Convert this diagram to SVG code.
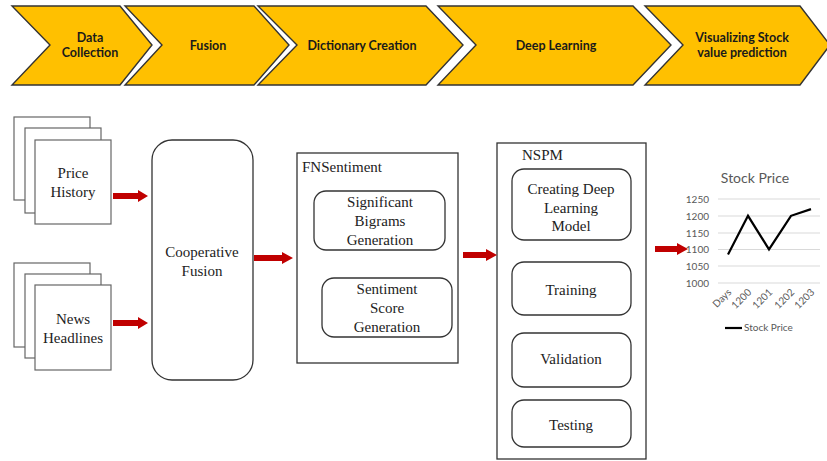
<svg xmlns="http://www.w3.org/2000/svg" width="827" height="461" viewBox="0 0 827 461">
  <defs>
    <style>
      .chev { fill: #FFC000; stroke: #333333; stroke-width: 1.4; stroke-linejoin: miter; }
      .chevtxt { font-family: Lato, "Liberation Sans", sans-serif; font-weight: bold; font-size: 12.5px; fill: #1a1a1a; text-anchor: middle; }
      .page { fill: #ffffff; stroke: #666666; stroke-width: 1.2; }
      .box { fill: #ffffff; stroke: #333333; stroke-width: 1.3; }
      .txt { font-family: "Liberation Serif", "Times New Roman", serif; font-size: 15px; fill: #222222; text-anchor: middle; }
      .lbl { font-family: "Liberation Serif", "Times New Roman", serif; font-size: 15px; fill: #222222; }
      .arrow { fill: #C00000; }
      .grid { stroke: #d9d9d9; stroke-width: 1; }
      .ax { font-family: Lato, "Liberation Sans", sans-serif; font-size: 10px; fill: #595959; }
    </style>
  </defs>

  <!-- process stages -->
  <g id="stage-data-collection">
    <polygon class="chev" points="12,6 120,6 152,45 120,85 12,85 50,45"/>
    <text class="chevtxt" x="90" y="42">Data</text>
    <text class="chevtxt" x="90" y="57">Collection</text>
  </g>
  <g id="stage-fusion">
    <polygon class="chev" points="125,6 254,6 289,45 254,85 125,85 162,45"/>
    <text class="chevtxt" x="208" y="50">Fusion</text>
  </g>
  <g id="stage-dictionary">
    <polygon class="chev" points="258,6 426,6 463,45 426,85 258,85 297,45"/>
    <text class="chevtxt" x="362" y="50">Dictionary Creation</text>
  </g>
  <g id="stage-deep-learning">
    <polygon class="chev" points="438,6 633,6 671,45 633,85 438,85 476,45"/>
    <text class="chevtxt" x="556" y="50">Deep Learning</text>
  </g>
  <g id="stage-visualizing">
    <polygon class="chev" points="645,6 800,6 830,45 800,85 645,85 683,45"/>
    <text class="chevtxt" x="742" y="42">Visualizing Stock</text>
    <text class="chevtxt" x="742" y="57">value prediction</text>
  </g>

  <!-- inputs -->
  <g id="price-history">
    <rect class="page" x="14" y="117" width="76" height="83"/>
    <rect class="page" x="25" y="128" width="76" height="85"/>
    <rect class="page" x="35" y="140" width="76" height="84"/>
    <text class="txt" x="73" y="178">Price</text>
    <text class="txt" x="73" y="197">History</text>
  </g>
  <g id="news-headlines">
    <rect class="page" x="14" y="263" width="76" height="84"/>
    <rect class="page" x="25" y="274" width="76" height="84"/>
    <rect class="page" x="35" y="285" width="76" height="85"/>
    <text class="txt" x="73" y="324">News</text>
    <text class="txt" x="73" y="343">Headlines</text>
  </g>

  <g id="cooperative-fusion">
    <rect class="box" x="152" y="140" width="101" height="240" rx="20" ry="20"/>
    <text class="txt" x="202" y="257">Cooperative</text>
    <text class="txt" x="202" y="276">Fusion</text>
  </g>

  <g id="fnsentiment">
    <rect class="box" x="297" y="153" width="161" height="210"/>
    <text class="lbl" x="302" y="172">FNSentiment</text>
    <g id="bigrams">
      <rect class="box" x="314" y="191" width="131" height="59" rx="12" ry="12"/>
      <text class="txt" x="380" y="207">Significant</text>
      <text class="txt" x="380" y="226">Bigrams</text>
      <text class="txt" x="380" y="245">Generation</text>
    </g>
    <g id="sentiment-score">
      <rect class="box" x="322" y="278" width="130" height="59" rx="12" ry="12"/>
      <text class="txt" x="387" y="294">Sentiment</text>
      <text class="txt" x="387" y="313">Score</text>
      <text class="txt" x="387" y="332">Generation</text>
    </g>
  </g>

  <g id="nspm">
    <rect class="box" x="497" y="143" width="149" height="316"/>
    <text class="lbl" x="522" y="160">NSPM</text>
    <g id="create-model">
      <rect class="box" x="512" y="169" width="119" height="71" rx="12" ry="12"/>
      <text class="txt" x="571" y="194">Creating Deep</text>
      <text class="txt" x="571" y="213">Learning</text>
      <text class="txt" x="571" y="231">Model</text>
    </g>
    <g id="training">
      <rect class="box" x="512" y="262" width="119" height="53" rx="12" ry="12"/>
      <text class="txt" x="571" y="295">Training</text>
    </g>
    <g id="validation">
      <rect class="box" x="512" y="333" width="119" height="54" rx="12" ry="12"/>
      <text class="txt" x="571" y="364">Validation</text>
    </g>
    <g id="testing">
      <rect class="box" x="512" y="400" width="119" height="47" rx="12" ry="12"/>
      <text class="txt" x="571" y="430">Testing</text>
    </g>
  </g>

  <!-- stock price chart -->
  <g id="stock-chart">
    <text x="755" y="183" font-family="Lato, 'Liberation Sans', sans-serif" font-size="14" fill="#595959" text-anchor="middle">Stock Price</text>
    <g>
      <line class="grid" x1="718" y1="199" x2="820" y2="199"/>
      <line class="grid" x1="718" y1="216" x2="820" y2="216"/>
      <line class="grid" x1="718" y1="233" x2="820" y2="233"/>
      <line class="grid" x1="718" y1="249.5" x2="820" y2="249.5"/>
      <line class="grid" x1="718" y1="266" x2="820" y2="266"/>
      <line class="grid" x1="718" y1="283" x2="820" y2="283"/>
    </g>
    <g class="ax" text-anchor="end">
      <text x="709" y="203">1250</text>
      <text x="709" y="220">1200</text>
      <text x="709" y="237">1150</text>
      <text x="709" y="253">1100</text>
      <text x="709" y="270">1050</text>
      <text x="709" y="287">1000</text>
    </g>
    <g class="ax" text-anchor="end" font-size="9.5">
      <text transform="translate(732,293) rotate(-45)">Days</text>
      <text transform="translate(752,293) rotate(-45)">1200</text>
      <text transform="translate(773,293) rotate(-45)">1201</text>
      <text transform="translate(795,293) rotate(-45)">1202</text>
      <text transform="translate(815,293) rotate(-45)">1203</text>
    </g>
    <polyline points="728,254.4 748,215.8 769,249.4 791,215.8 811,209.1" fill="none" stroke="#000000" stroke-width="2.2" stroke-linejoin="miter"/>
    <line x1="725" y1="328" x2="742" y2="328" stroke="#000000" stroke-width="2.2"/>
    <text class="ax" x="744" y="331" font-size="9">Stock Price</text>
  </g>

  <!-- connectors -->
  <g id="connectors">
    <polygon class="arrow" points="113,193 138,193 138,190 148,196 138,202 138,199 113,199"/>
    <polygon class="arrow" points="113,320 138,320 138,317 148,323 138,329 138,326 113,326"/>
    <polygon class="arrow" points="254,255 282,255 282,252 293,258 282,264 282,261 254,261"/>
    <polygon class="arrow" points="463,252 486,252 486,249 497,255 486,261 486,258 463,258"/>
    <polygon class="arrow" points="655,246 677,246 677,243 688,249 677,255 677,252 655,252"/>
  </g>
</svg>
